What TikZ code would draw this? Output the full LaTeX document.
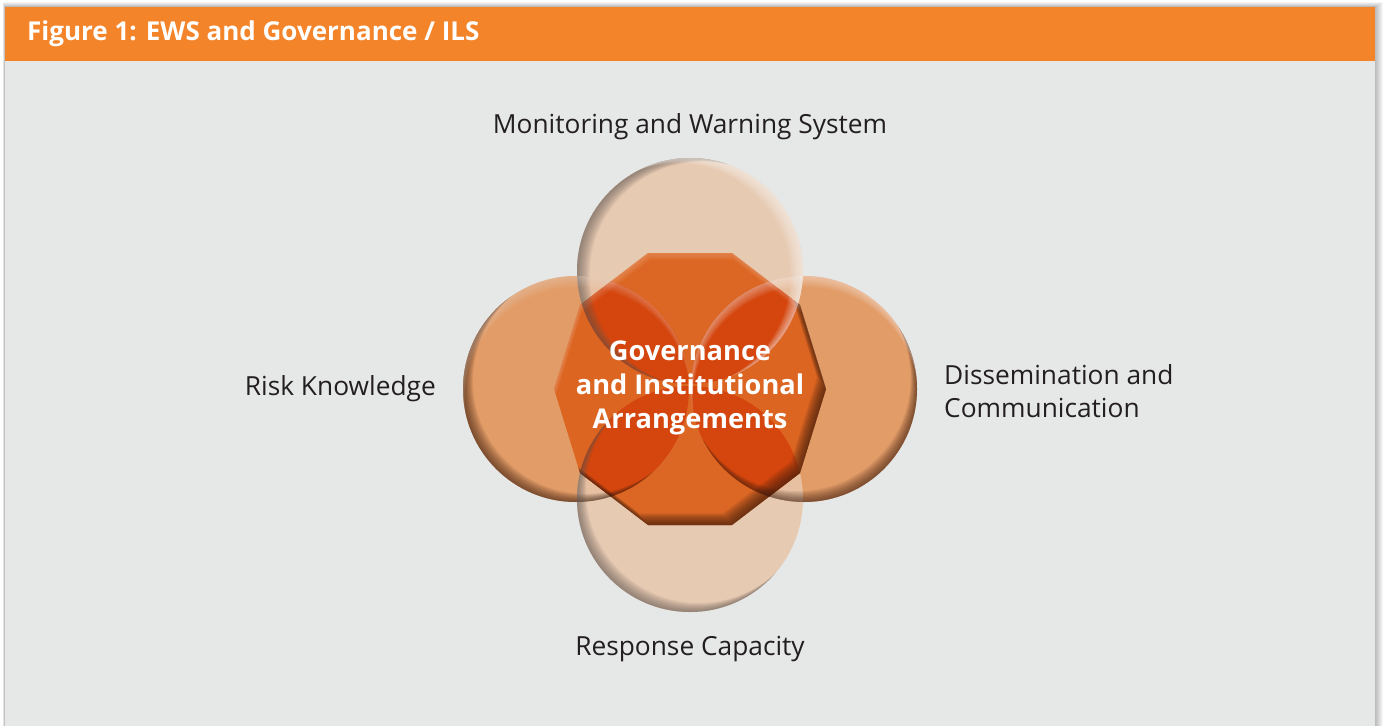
\documentclass[tikz,border=0pt]{standalone}
\usepackage{fontspec}
\setmainfont{Open Sans}
\usetikzlibrary{calc}
\definecolor{hdr}{HTML}{F4842A}
\definecolor{panel}{HTML}{E6E8E7}
\definecolor{lrc}{HTML}{E29C68}
\definecolor{tbc}{HTML}{E8C6AB}
\definecolor{deca}{HTML}{DC6420}
\definecolor{lens}{HTML}{D4460E}
\definecolor{txt}{HTML}{231F20}
\definecolor{rimdark}{HTML}{3A1C0C}
\definecolor{rimgrey}{HTML}{5E5550}
\newcommand\mydeca[2]{({826+#1},{389+#2}) -- ({800+#1},{473+#2}) -- ({732+#1},{525+#2}) -- ({648+#1},{525+#2}) -- ({580+#1},{473+#2}) -- ({554+#1},{389+#2}) -- ({580+#1},{305+#2}) -- ({648+#1},{253+#2}) -- ({732+#1},{253+#2}) -- ({800+#1},{305+#2}) -- cycle}
\newcommand\myinshadow[7]{%
  \begin{scope}
    \clip (#1,#2) circle[radius=113pt];
    \foreach \k in {1,...,9}{
      \fill[#6, fill opacity=#7, even odd rule] (#1,#2) circle[radius=118pt] ({#1+#4*\k},{#2+#5*\k}) circle[radius=113pt];
    }
  \end{scope}}
\tikzset{
  label/.style={text=txt, font=\fontsize{26.3}{33}\selectfont, inner sep=0pt},
  centre/.style={text=white, font=\fontsize{27.2}{34}\selectfont\bfseries, align=center, inner sep=0pt},
  titletext/.style={text=white, font=\fontsize{26}{30}\selectfont\bfseries, anchor=west, inner sep=0pt}
}
\begin{document}
\begin{tikzpicture}[x=1pt,y=-1pt]
\useasboundingbox (0,0) rectangle (1383,726);
% page and panel shadow
\fill[white] (0,0) rectangle (1383,726);
\foreach \s in {1,...,8}{
  \fill[black, opacity=0.035] ({5-\s*0.3},{7-\s*0.6}) rectangle ({1375+\s},{726});
}
% panel
\fill[panel] (5,7) rectangle (1375,726);
\fill[hdr] (5,7) rectangle (1375,61);
\node[titletext] (title) at (27,34) {Figure 1: EWS and Governance / ILS};
% left and right circles
\fill[lrc] (576,389) circle[radius=113pt];
\fill[lrc] (804,389) circle[radius=113pt];
% top and bottom circles
\fill[tbc, fill opacity=0.88] (690,271) circle[radius=113pt];
\fill[tbc, fill opacity=0.88] (690,499) circle[radius=113pt];
% decagon
\fill[deca, fill opacity=0.97] \mydeca{0}{0};
% lenses inside the decagon
\begin{scope}
  \clip \mydeca{0}{0};
  \begin{scope}\clip (690,271) circle[radius=113pt];
    \fill[lens] (576,389) circle[radius=113pt];
    \fill[lens] (804,389) circle[radius=113pt];
  \end{scope}
  \begin{scope}\clip (690,499) circle[radius=113pt];
    \fill[lens] (576,389) circle[radius=113pt];
    \fill[lens] (804,389) circle[radius=113pt];
  \end{scope}
  % decagon inner shadow
  \foreach \k in {1,...,9}{
    \fill[rimdark, fill opacity=0.11, even odd rule] (540,240) rectangle (840,540) \mydeca{-1.0*\k}{-1.3*\k};
  }
  % top light on decagon
  \foreach \k in {1,...,6}{
    \fill[white, fill opacity=0.035, even odd rule] (540,240) rectangle (840,540) \mydeca{0.3*\k}{1.2*\k};
  }
\end{scope}
% circle inner shadows
\myinshadow{576}{389}{113}{1.1}{-0.9}{rimdark}{0.09}
\myinshadow{804}{389}{113}{-0.7}{-1.2}{rimdark}{0.085}
\myinshadow{690}{271}{113}{1.4}{0.4}{rimgrey}{0.085}
\myinshadow{690}{499}{113}{1.0}{-1.0}{rimgrey}{0.085}
% highlights
\myinshadow{690}{271}{113}{-1.4}{0.6}{white}{0.075}
\myinshadow{804}{389}{113}{0.2}{1.2}{white}{0.05}
\myinshadow{576}{389}{113}{0.2}{1.2}{white}{0.03}
% texts
\node[label] (mon) at (690,127) {Monitoring and Warning System};
\node[label, anchor=east] (risk) at (436,389) {Risk Knowledge};
\node[label, anchor=west, align=left] (diss) at (944,391) {Dissemination and\\Communication};
\node[label] (resp) at (690,649) {Response Capacity};
\node[centre] (gov) at (690,388) {Governance\\and Institutional\\Arrangements};
\end{tikzpicture}
\end{document}
